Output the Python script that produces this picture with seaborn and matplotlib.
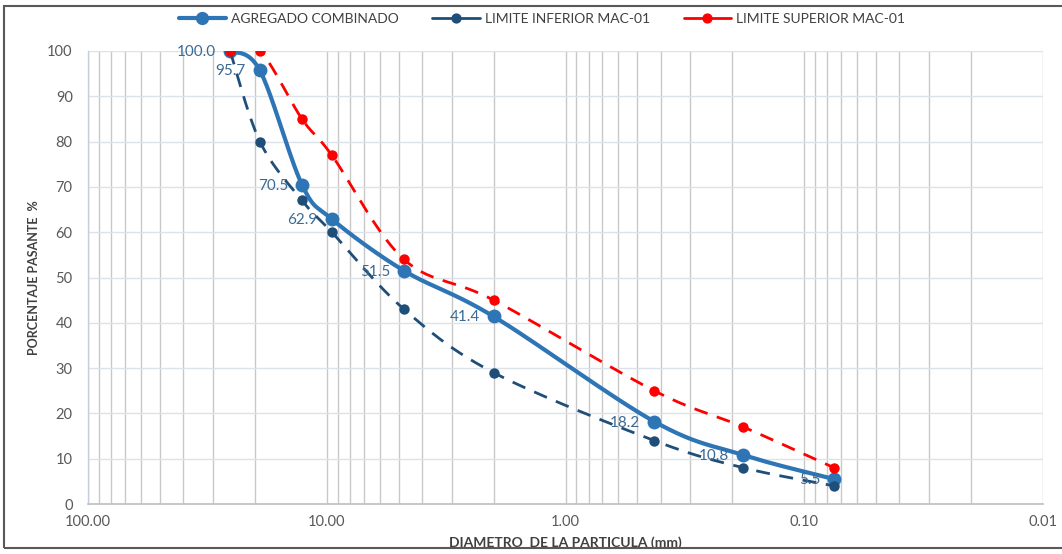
import numpy as np
import pandas as pd
import seaborn as sns
import matplotlib.pyplot as plt
from matplotlib.patches import Rectangle
from matplotlib.ticker import FixedLocator, NullFormatter, FixedFormatter

# Sieve openings (mm) and percent passing
diametro = [25.4, 19.05, 12.7, 9.525, 4.75, 2.0, 0.425, 0.18, 0.075]
combinado = [100.0, 95.7, 70.5, 62.9, 51.5, 41.4, 18.2, 10.8, 5.5]
lim_inferior = [100, 80, 67, 60, 43, 29, 14, 8, 4]
lim_superior = [100, 100, 85, 77, 54, 45, 25, 17, 8]

series_names = ["AGREGADO COMBINADO", "LIMITE INFERIOR MAC-01", "LIMITE SUPERIOR MAC-01"]
x_ticks = [100, 10, 1, 0.1, 0.01]
x_tick_labels = ["100.00", "10.00", "1.00", "0.10", "0.01"]
y_ticks = list(range(0, 101, 10))

sns.set_theme(style="white")
plt.rcParams["font.family"] = ["Lato", "DejaVu Sans"]

W, H = 1062, 554
fig = plt.figure(figsize=(W / 100, H / 100), dpi=100)
ax = fig.add_axes([88 / W, 1 - 504 / H, (1043 - 88) / W, (504 - 51) / H])

ax.set_xscale("log")
ax.set_xlim(100, 0.01)
ax.set_ylim(0, 100)

# screen scale: pixels per decade and per percent
PX_DEC = (1043 - 88) / 4.0
PX_PCT = (504 - 51) / 100.0


def smooth(xs, ys, n=40):
    """Catmull-Rom curve through the points, computed in screen-proportional space."""
    u = np.log10(np.asarray(xs, float)) * PX_DEC
    v = np.asarray(ys, float) * PX_PCT
    P = np.column_stack([u, v])
    P = np.vstack([P[0], P, P[-1]])
    out = []
    for i in range(1, len(P) - 2):
        p0, p1, p2, p3 = P[i - 1], P[i], P[i + 1], P[i + 2]
        t = np.linspace(0, 1, n)[:, None]
        seg = 0.5 * ((2 * p1) + (-p0 + p2) * t + (2 * p0 - 5 * p1 + 4 * p2 - p3) * t ** 2
                     + (-p0 + 3 * p1 - 3 * p2 + p3) * t ** 3)
        out.append(seg)
    C = np.vstack(out)
    return 10 ** (C[:, 0] / PX_DEC), C[:, 1] / PX_PCT


styles = {
    series_names[0]: dict(color="#2E75B6", lw=3.0, ls="-", ms=10, zorder=3),
    series_names[1]: dict(color="#1F4E79", lw=2.0, ls=(0, (5, 3.5)), ms=7.5, zorder=4),
    series_names[2]: dict(color="#FF0000", lw=2.0, ls=(0, (5, 3.5)), ms=7.5, zorder=5),
}

df = pd.DataFrame({
    "diametro": diametro * 3,
    "pasante": combinado + lim_inferior + lim_superior,
    "serie": [series_names[0]] * len(diametro) + [series_names[1]] * len(diametro)
             + [series_names[2]] * len(diametro),
})

for name, sub in df.groupby("serie", sort=False):
    st = styles[name]
    sx, sy = smooth(sub["diametro"].values, sub["pasante"].values)
    ax.plot(sx, sy, color=st["color"], lw=st["lw"], ls=st["ls"], zorder=st["zorder"],
            solid_capstyle="round")
    sns.scatterplot(x=sub["diametro"], y=sub["pasante"], ax=ax, color=st["color"],
                    s=st["ms"] ** 2, edgecolor=st["color"], linewidth=0,
                    zorder=st["zorder"] + 0.5, legend=False)

# Data labels for the combined gradation
for xv, yv in zip(diametro, combinado):
    ax.annotate(f"{yv:.1f}", (xv, yv), xytext=(-14, -1), textcoords="offset pixels",
                ha="right", va="center", fontsize=11, color="#3A6A95", zorder=6)

# Grid
minor = [m * 10.0 ** e for e in range(-2, 2) for m in range(2, 10)]
ax.xaxis.set_major_locator(FixedLocator(x_ticks))
ax.xaxis.set_major_formatter(FixedFormatter(x_tick_labels))
ax.xaxis.set_minor_locator(FixedLocator(minor))
ax.xaxis.set_minor_formatter(NullFormatter())
ax.set_yticks(y_ticks)
ax.grid(True, which="major", axis="x", color="#C8C8C8", lw=1.0)
ax.grid(True, which="minor", axis="x", color="#C8C8C8", lw=1.0)
ax.grid(True, which="major", axis="y", color="#DCE2EA", lw=1.0)
ax.set_axisbelow(True)

for s in ["top", "right"]:
    ax.spines[s].set_visible(False)
ax.spines["left"].set_color("#C5CFDD")
ax.spines["bottom"].set_color("#BFBFBF")
ax.spines["left"].set_linewidth(1.0)
ax.spines["bottom"].set_linewidth(1.2)

ax.tick_params(axis="both", which="both", length=0, labelsize=10.5, labelcolor="#595959")
ax.tick_params(axis="y", pad=11)
ax.tick_params(axis="x", pad=8)

ax.set_xlabel("DIAMETRO  DE LA PARTICULA (mm)", fontsize=10, fontweight="bold",
              color="#404040", labelpad=5)
ax.set_ylabel("PORCENTAJE PASANTE  %", fontsize=9, fontweight="bold",
              color="#404040", labelpad=5)

# Legend
handles = [plt.Line2D([], [], color=styles[n]["color"], lw=styles[n]["lw"],
                      marker="o", ms=styles[n]["ms"] * 0.85) for n in series_names]
fig.legend(handles, series_names, loc="center", bbox_to_anchor=(542 / W, 1 - 19 / H),
           ncol=3, frameon=False, fontsize=10, labelcolor="#404040",
           handlelength=3.4, columnspacing=2.4, handletextpad=0.4)

# Outer frame of the chart area
fig.patches.append(Rectangle((4 / W, 6 / H), 1.0, 1 - 12 / H, transform=fig.transFigure,
                             fill=False, edgecolor="#595959", lw=1.5))

fig.savefig("out.png", dpi=100)
